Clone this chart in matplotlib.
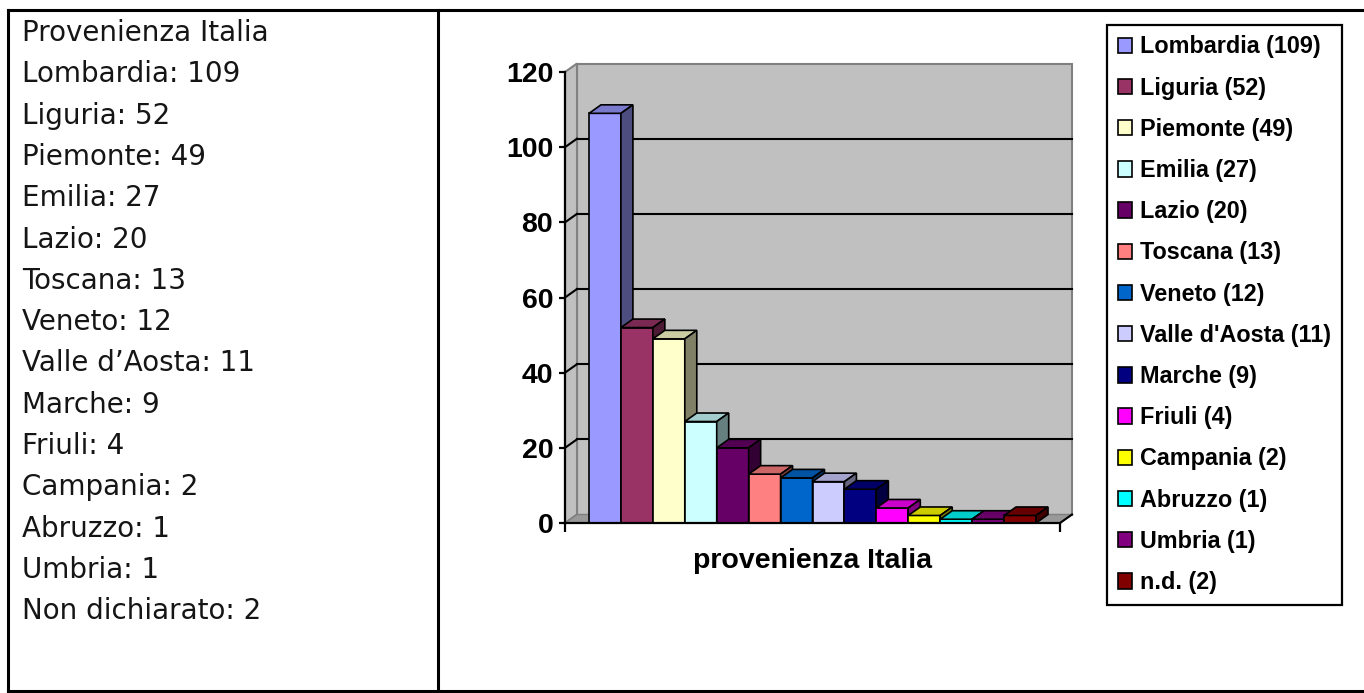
import matplotlib
matplotlib.use('Agg')
import matplotlib.pyplot as plt
from matplotlib.patches import Polygon, Patch
from matplotlib.lines import Line2D
import matplotlib.colors as mcolors

# ---------------- data ----------------
regions = ['Lombardia', 'Liguria', 'Piemonte', 'Emilia', 'Lazio', 'Toscana', 'Veneto',
           "Valle d'Aosta", 'Marche', 'Friuli', 'Campania', 'Abruzzo', 'Umbria', 'n.d.']
counts = [109, 52, 49, 27, 20, 13, 12, 11, 9, 4, 2, 1, 1, 2]
bar_colors = ['#9999FF', '#993366', '#FFFFCC', '#CCFFFF', '#660066', '#FF8080', '#0066CC',
              '#CCCCFF', '#000080', '#FF00FF', '#FFFF00', '#00FFFF', '#800080', '#800000']
yticks = [0, 20, 40, 60, 80, 100, 120]
axis_label = 'provenienza Italia'

text_title = 'Provenienza Italia'
text_names = ['Lombardia', 'Liguria', 'Piemonte', 'Emilia', 'Lazio', 'Toscana', 'Veneto',
              'Valle d\u2019Aosta', 'Marche', 'Friuli', 'Campania', 'Abruzzo', 'Umbria',
              'Non dichiarato']
text_values = [109, 52, 49, 27, 20, 13, 12, 11, 9, 4, 2, 1, 1, 2]

# ---------------- layout helpers ----------------
W, H = 1364, 693
fig = plt.figure(figsize=(W / 100, H / 100), dpi=100)
fig.patch.set_facecolor('white')

def fx(px):
    return px / W

def fy(py):
    return 1 - py / H

# table borders
for (x0, y0, x1, y1) in [(8, 10, 1364, 10), (8, 691, 1364, 691), (8, 10, 8, 691), (438, 10, 438, 691)]:
    fig.add_artist(Line2D([fx(x0), fx(x1)], [fy(y0), fy(y1)], color='black', lw=2.2,
                          transform=fig.transFigure, solid_capstyle='projecting'))

# left cell text
lines = [text_title] + [f'{n}: {v}' for n, v in zip(text_names, text_values)]
for i, s in enumerate(lines):
    fig.text(fx(22), fy(41 + 41.3 * i), s, fontsize=20, family='DejaVu Sans', color='#151515',
             ha='left', va='baseline')

# ---------------- chart ----------------
AX_L, AX_R, AX_B, AX_T = 565, 1060, 523, 72
ax = fig.add_axes([fx(AX_L), fy(AX_B), fx(AX_R) - fx(AX_L), fy(AX_T) - fy(AX_B)])
bar_px = (1036 - 589) / len(counts)
xmin = (AX_L - 589) / bar_px
xmax = (AX_R - 589) / bar_px
ymin, ymax = 0, 120
ax.set_xlim(xmin, xmax)
ax.set_ylim(ymin, ymax)
ax.patch.set_visible(False)

px_per_unit = (AX_B - AX_T) / (ymax - ymin)
dx = 12 / bar_px
dy = 8.5 / px_per_unit

wall = '#C0C0C0'
edge_gray = '#808080'
# back wall
ax.add_patch(Polygon([(xmin + dx, dy), (xmax + dx, dy), (xmax + dx, ymax + dy), (xmin + dx, ymax + dy)],
                     closed=True, facecolor=wall, edgecolor=edge_gray, lw=1.5, zorder=1, clip_on=False))
# side wall
ax.add_patch(Polygon([(xmin, 0), (xmin + dx, dy), (xmin + dx, ymax + dy), (xmin, ymax)],
                     closed=True, facecolor=wall, edgecolor=edge_gray, lw=1.5, zorder=1, clip_on=False))
# floor
ax.add_patch(Polygon([(xmin, 0), (xmax, 0), (xmax + dx, dy), (xmin + dx, dy)],
                     closed=True, facecolor='#999999', edgecolor=edge_gray, lw=1.0, zorder=1.5, clip_on=False))
ax.plot([xmax, xmax + dx], [0, dy], color='black', lw=1.5, zorder=1.6, clip_on=False)

# gridlines
for v in yticks[1:-1]:
    ax.plot([xmin + dx, xmax + dx], [v + dy, v + dy], color='black', lw=1.5, zorder=2, clip_on=False)
    ax.plot([xmin, xmin + dx], [v, v + dy], color='black', lw=1.5, zorder=2, clip_on=False)

def shade(c, f):
    r, g, b = mcolors.to_rgb(c)
    return (r * f, g * f, b * f)

# bars
for i, (v, c) in enumerate(zip(counts, bar_colors)):
    z = 3 + i * 0.01
    ax.bar(i, v, width=1, align='edge', color=c, edgecolor='black', lw=1.2, zorder=z)
    ax.add_patch(Polygon([(i, v), (i + 1, v), (i + 1 + dx, v + dy), (i + dx, v + dy)], closed=True,
                         facecolor=shade(c, 0.8), edgecolor='black', lw=1.2, zorder=z, clip_on=False))
    ax.add_patch(Polygon([(i + 1, 0), (i + 1 + dx, dy), (i + 1 + dx, v + dy), (i + 1, v)], closed=True,
                         facecolor=shade(c, 0.5), edgecolor='black', lw=1.2, zorder=z, clip_on=False))

# axes styling
for s in ['top', 'right']:
    ax.spines[s].set_visible(False)
for s in ['left', 'bottom']:
    ax.spines[s].set_linewidth(1.6)
    ax.spines[s].set_zorder(5)
eps = 1e-6
ax.set_xticks([xmin + eps, xmax - eps])
ax.set_xticklabels(['', ''])
ax.tick_params(axis='x', direction='out', length=6.5, width=1.6)
ax.set_yticks(yticks)
ax.set_yticklabels([str(t) for t in yticks], fontsize=20.5, fontweight='bold', family='Liberation Sans')
ax.tick_params(axis='y', direction='out', length=4.5, width=1.6, pad=4)

ax.set_xlabel(axis_label, fontsize=20.5, fontweight='bold', family='Liberation Sans', va='center')
ax.xaxis.set_label_coords(0.5, -(561 - AX_B) / (AX_B - AX_T))

# legend
handles = [Patch(facecolor=c, edgecolor='black', lw=1.2) for c in bar_colors]
labels = [f'{r} ({v})' for r, v in zip(regions, counts)]
leg = fig.legend(handles, labels, loc='upper left', bbox_to_anchor=(fx(1107), fy(25)),
                 bbox_transform=fig.transFigure, borderaxespad=0,
                 prop={'family': 'Liberation Sans', 'weight': 'bold', 'size': 16.8},
                 handlelength=0.63, handleheight=0.63, handletextpad=0.35,
                 labelspacing=0.78, borderpad=0.45, fancybox=False, framealpha=1)
leg.get_frame().set_edgecolor('black')
leg.get_frame().set_linewidth(1.6)

fig.savefig('out.png', dpi=100)
